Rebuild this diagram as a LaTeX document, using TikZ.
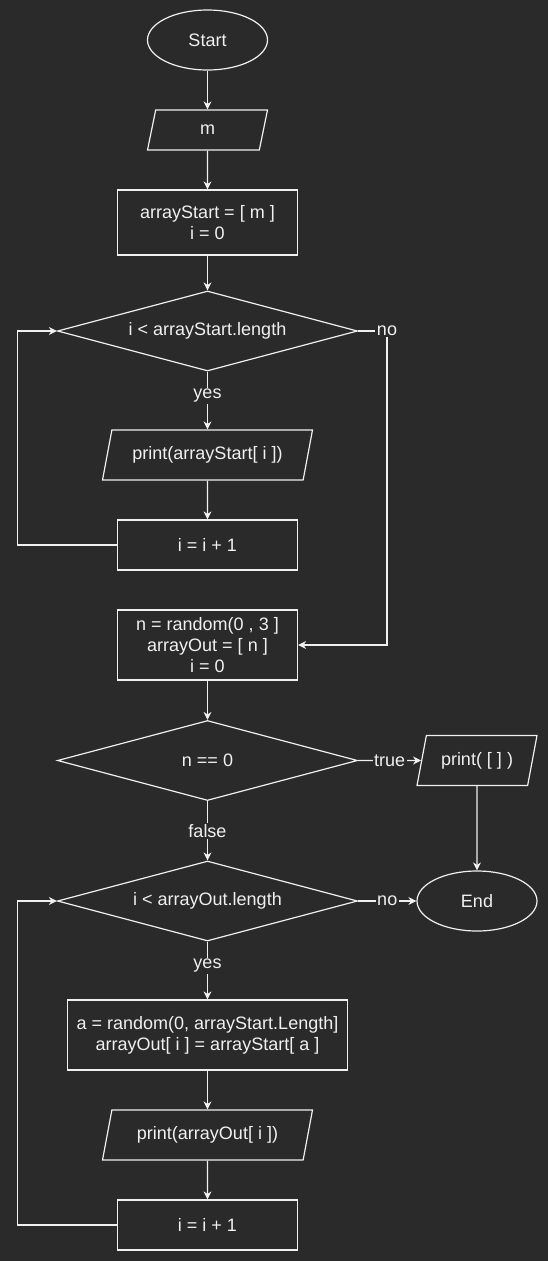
\documentclass[tikz,border=0pt]{standalone}
\usepackage{fontspec}
\setmainfont{Liberation Sans}
\usetikzlibrary{shapes.geometric}
\usetikzlibrary{arrows.meta}
\definecolor{bg}{HTML}{2A2A2A}
\definecolor{fg}{HTML}{F0F0F0}

\begin{document}
\begin{tikzpicture}[x=1pt, y=-1pt, color=fg, line width=1.2pt,
>={Stealth[length=8pt, width=8pt, inset=2.5pt]},
every node/.style={font=\fontsize{18}{21}\selectfont, align=center},
terminal/.style={ellipse, draw, minimum width=120pt, minimum height=60pt},
process/.style={rectangle, draw, minimum width=180pt, minimum height=50pt},
decision/.style={diamond, draw, aspect=3.75, inner sep=1pt, minimum width=300pt, minimum height=80pt},
io/.style={trapezium, draw, trapezium stretches body, minimum height=50pt, minimum width=210pt,
trapezium left angle=68.2, trapezium right angle=111.8},
lbl/.style={fill=bg, inner sep=1.5pt}]
\fill [bg] (0,0) rectangle (548,1261);
\useasboundingbox (0,0) rectangle (548,1261);
\node [terminal] (start) at (207.5,40) {Start};
\node [io, minimum width=120pt, minimum height=40pt, trapezium left angle=63.4, trapezium right angle=116.6] (inputm) at (207.5,130) {m};
\node [process, minimum height=65pt] (init) at (207.5,222.5) {arrayStart = [ m ]\\i = 0};
\node [decision] (condstart) at (207.5,331) {i < arrayStart.length};
\node [io] (printstart) at (207.5,455) {print(arrayStart[ i ])};
\node [process] (incstart) at (207.5,545) {i = i + 1};
\node [process, minimum height=70pt] (initout) at (207.5,645) {n = random(0 , 3 ]\\arrayOut = [ n ]\\i = 0};
\node [decision] (condzero) at (207.5,760.5) {n == 0};
\node [io, minimum width=120pt] (printempty) at (477,760.5) {print( [ ] )};
\node [decision] (condout) at (207.5,901) {i < arrayOut.length};
\node [terminal] (stop) at (477,901) {End};
\node [process, minimum width=280pt, minimum height=70pt] (assign) at (207.5,1035) {a = random(0, arrayStart.Length]\\arrayOut[ i ] = arrayStart[ a ]};
\node [io] (printout) at (207.5,1135) {print(arrayOut[ i ])};
\node [process] (incout) at (207.5,1225) {i = i + 1};
\coordinate (nostart) at (387,331);
\coordinate (loopstart) at (17.5,545);
\coordinate (loopout) at (17.5,1225);
\draw [->] (start) -- (inputm);
\draw [->] (inputm) -- (init);
\draw [->] (init) -- (condstart);
\draw [->] (condstart) -- node [lbl, pos=0.42] {yes} (printstart);
\draw [->] (printstart) -- (incstart);
\draw [->] (incstart.west) -- (loopstart) |- (condstart.west);
\draw [->] (condstart.east) -- (nostart) node [lbl] {no} |- (initout.east);
\draw [->] (initout) -- (condzero);
\draw [->] (condzero.east) -- node [lbl] {true} (printempty.west);
\draw [->] (printempty) -- (stop);
\draw [->] (condzero) -- node [lbl] {false} (condout);
\draw [->] (condout.east) -- node [lbl] {no} (stop.west);
\draw [->] (condout) -- node [lbl, pos=0.42] {yes} (assign);
\draw [->] (assign) -- (printout);
\draw [->] (printout) -- (incout);
\draw [->] (incout.west) -- (loopout) |- (condout.west);
\end{tikzpicture}
\end{document}
